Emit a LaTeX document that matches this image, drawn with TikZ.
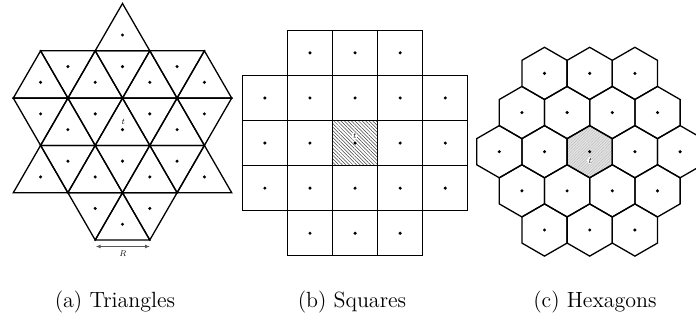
\documentclass[tikz,border=0pt]{standalone}
\usetikzlibrary{patterns.meta,arrows.meta}
\begin{document}
\begin{tikzpicture}[x=0.5pt,y=-0.5pt,
  edge/.style={draw=black,line width=0.65pt,line join=miter},
  dotc/.style={fill=black},
  captxt/.style={font=\fontsize{11}{13}\selectfont, anchor=base, inner sep=0pt},
  smalllbl/.style={font=\fontsize{4.2}{4.2}\selectfont\itshape, inner sep=0.4pt},
  tlab/.style={smalllbl, fill=white, rounded corners=1pt}]
\clip (0,0) rectangle (696,321);
% ---------- (a) triangles ----------
\def\ts{54.6}\def\th{47.3}\def\tx{122.5}\def\ty{3.5}
\foreach \r/\j in {0/0, 1/-3,1/-1,1/1,1/3, 2/-2,2/0,2/2, 3/-3,3/-1,3/1,3/3, 4/0}{
  \draw[edge] ({\tx+\j*\ts/2},{\ty+\r*\th}) -- ({\tx+(\j-1)*\ts/2},{\ty+(\r+1)*\th})
     -- ({\tx+(\j+1)*\ts/2},{\ty+(\r+1)*\th}) -- cycle;
  \fill[dotc] ({\tx+\j*\ts/2},{\ty+(\r+2/3)*\th}) circle[radius=0.85pt];
}
\foreach \r/\j in {1/-2,1/0,1/2, 2/-3,2/-1,2/1,2/3, 3/-2,3/0,3/2, 4/-1,4/1}{
  \draw[edge] ({\tx+(\j-1)*\ts/2},{\ty+\r*\th}) -- ({\tx+(\j+1)*\ts/2},{\ty+\r*\th})
     -- ({\tx+\j*\ts/2},{\ty+(\r+1)*\th}) -- cycle;
  \fill[dotc] ({\tx+\j*\ts/2},{\ty+(\r+1/3)*\th}) circle[radius=0.85pt];
}
\node[smalllbl] (ta) at (122.7,121.5) {t};
\coordinate (ra) at (95.7,246.5);
\coordinate (rb) at (150,246.5);
\draw[gray!70!black, line width=0.6pt, {Latex[length=2.5pt,width=2pt]}-{Latex[length=2.5pt,width=2pt]}] (ra) -- (rb);
\node[smalllbl] (rl) at (122.7,253.5) {R};
% ---------- (b) squares ----------
\def\sx{242.3}\def\sy{30.3}\def\ss{45.1}
\fill[pattern={Lines[angle=-45,distance=1.25pt,line width=0.25pt]}, pattern color=black!75]
  ({\sx+2*\ss},{\sy+2*\ss}) rectangle ({\sx+3*\ss},{\sy+3*\ss});
\foreach \c/\r in {1/0,2/0,3/0, 0/1,1/1,2/1,3/1,4/1, 0/2,1/2,2/2,3/2,4/2, 0/3,1/3,2/3,3/3,4/3, 1/4,2/4,3/4}{
  \draw[edge] ({\sx+\c*\ss},{\sy+\r*\ss}) rectangle ({\sx+(\c+1)*\ss},{\sy+(\r+1)*\ss});
  \fill[dotc] ({\sx+(\c+0.5)*\ss},{\sy+(\r+0.5)*\ss}) circle[radius=0.85pt];
}
\node[tlab] (tb) at (354.3,136) {t};
% ---------- (c) hexagons ----------
\def\hr{26.1}
\fill[gray!22] (589.7,151.7) +(30:\hr) -- +(90:\hr) -- +(150:\hr) -- +(210:\hr) -- +(270:\hr) -- +(330:\hr) -- cycle;
\fill[pattern={Lines[angle=45,distance=1pt,line width=0.2pt]}, pattern color=gray!55]
  (589.7,151.7) +(30:\hr) -- +(90:\hr) -- +(150:\hr) -- +(210:\hr) -- +(270:\hr) -- +(330:\hr) -- cycle;
\foreach \cx/\cy in {544.5/73.4,589.7/73.4,634.9/73.4,
  521.9/112.55,567.1/112.55,612.3/112.55,657.5/112.55,
  499.3/151.7,544.5/151.7,589.7/151.7,634.9/151.7,680.1/151.7,
  521.9/190.85,567.1/190.85,612.3/190.85,657.5/190.85,
  544.5/230,589.7/230,634.9/230}{
  \draw[edge] (\cx,\cy) +(30:\hr) -- +(90:\hr) -- +(150:\hr) -- +(210:\hr) -- +(270:\hr) -- +(330:\hr) -- cycle;
  \fill[dotc] (\cx,\cy) circle[radius=0.85pt];
}
\node[tlab, rounded corners=2pt] (tc) at (589.7,160.5) {t};
% ---------- captions ----------
\node[captxt] (ca) at (115,307) {(a) Triangles};
\node[captxt] (cb) at (352,307) {(b) Squares};
\node[captxt] (cc) at (595,307) {(c) Hexagons};
\end{tikzpicture}
\end{document}
